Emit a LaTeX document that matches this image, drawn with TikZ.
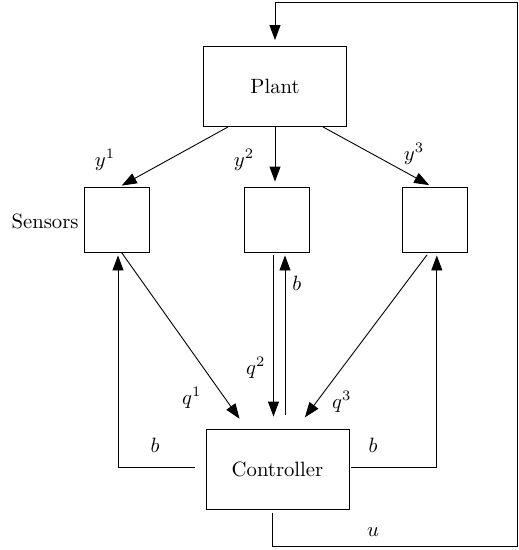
\documentclass[tikz,border=0pt]{standalone}
\usepackage{fontspec}
\usetikzlibrary{arrows.meta}
% text is set at 10pt and enlarged, keeping the 10pt design
\newcommand{\bigtext}[1]{\scalebox{2.07}{#1}}
\begin{document}
\begin{tikzpicture}[x=1pt,y=-1pt,
  line width=0.9pt,
  block/.style={draw,rectangle,minimum width=143pt,minimum height=80pt,inner sep=0pt},
  sensor/.style={draw,rectangle,minimum width=65pt,minimum height=65pt,inner sep=0pt},
  arr/.style={-{Triangle[length=15pt,width=11pt]}},
  lbl/.style={inner sep=0pt}]
\useasboundingbox (0,0) rectangle (519,550);

% blocks
\node[block] (plant) at (275,86.5) {\bigtext{Plant}};
\node[block] (ctrl) at (277.5,469) {\bigtext{Controller}};
\node[sensor] (s1) at (116.5,219.5) {};
\node[sensor] (s2) at (276.5,219.5) {};
\node[sensor] (s3) at (434.8,219.5) {};
\node[lbl,anchor=east] (senslbl) at (79,221) {\bigtext{Sensors}};

% loop corners of the actuation path
\coordinate (loopB) at (517,546.7);
\coordinate (loopT) at (517,2.7);

% actuation u back to the plant
\draw[arr,shorten >=6pt] ([xshift=-5pt,yshift=-4pt]ctrl.south) |- (loopB) -- (loopT) -| (plant.north);

% plant outputs to sensors
\draw[arr,shorten >=2pt] ([xshift=-47pt]plant.south) -- ([xshift=3.5pt]s1.north);
\draw[arr,shorten >=5pt] (plant.south) -- (plant.south |- s2.north);
\draw[arr,shorten >=3pt] ([xshift=48pt]plant.south) -- ([xshift=-3pt]s3.north);

% sensor messages to the controller
\draw[arr,shorten >=12pt] ([xshift=5pt]s1.south) -- ([xshift=-31pt]ctrl.north);
\draw[arr,shorten <=3pt,shorten >=12pt] ([xshift=-3pt]s2.south) -- ([xshift=-3pt]s2.south |- ctrl.north);
\draw[arr,shorten <=3pt,shorten >=14pt] ([xshift=-6pt]s3.south) -- ([xshift=19pt]ctrl.north);

% controller feedback b to the sensors
\draw[arr,shorten <=14pt,shorten >=3pt] ([xshift=8.5pt]s2.south |- ctrl.north) -- ([xshift=8.5pt]s2.south);
\draw[arr,shorten >=3pt] ([xshift=-11pt,yshift=1.5pt]ctrl.west) -| ([xshift=1.5pt]s1.south);
\draw[arr,shorten >=3pt] ([xshift=2pt,yshift=1.5pt]ctrl.east) -| ([xshift=2pt]s3.south);

% signal labels
\node[lbl] (ly1) at (105,160) {\bigtext{$y^1$}};
\node[lbl] (ly2) at (244,160) {\bigtext{$y^2$}};
\node[lbl] (ly3) at (414,154) {\bigtext{$y^3$}};
\node[lbl] (lq1) at (191.7,398) {\bigtext{$q^1$}};
\node[lbl] (lq2) at (255.7,368) {\bigtext{$q^2$}};
\node[lbl] (lq3) at (341.7,401.7) {\bigtext{$q^3$}};
\node[lbl] (lbm) at (296.7,283) {\bigtext{$b$}};
\node[lbl] (lbl1) at (155,445) {\bigtext{$b$}};
\node[lbl] (lbr) at (373,445) {\bigtext{$b$}};
\node[lbl] (lu) at (373,531.7) {\bigtext{$u$}};
\end{tikzpicture}
\end{document}
